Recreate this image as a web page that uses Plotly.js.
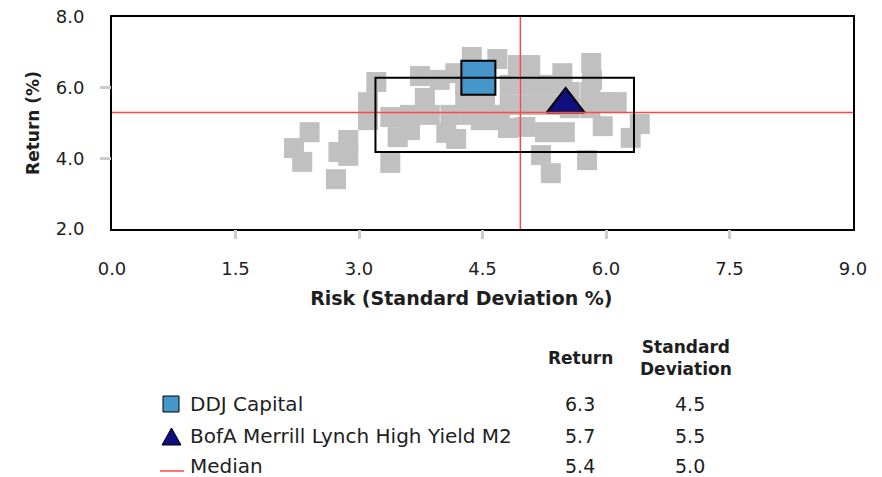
<!DOCTYPE html>
<html>
<head>
<meta charset="utf-8">
<script src="https://cdn.plot.ly/plotly-3.0.1.min.js"></script>
<style>
  html, body { margin: 0; padding: 0; background: #ffffff; }
  #chart { width: 882px; height: 477px; }
</style>
</head>
<body>
<div id="chart"></div>
<script>
// ---------- data ----------
const peerRisk = [2.21, 2.40, 2.31, 2.75, 2.87, 2.87, 2.72, 3.38,
                  3.21, 3.11, 3.11,
                  3.74, 3.98, 4.17, 4.37, 4.68, 4.93, 5.08, 5.47, 5.82, 5.83,
                  3.80, 4.29, 4.53, 4.29, 4.53,
                  4.83, 5.08, 5.32, 5.56, 5.81,
                  4.83, 5.08, 5.32, 5.56, 5.81,
                  3.38, 3.62, 3.86, 4.11, 4.35, 4.59,
                  3.47, 3.62, 4.06, 4.18, 4.48, 4.71, 4.81,
                  5.02, 5.26, 5.50, 5.21, 5.33, 5.77,
                  5.96, 6.01, 6.13, 6.41, 6.30];
const peerReturn = [4.29, 4.74, 3.90, 4.18, 4.52, 4.07, 3.41, 3.87,
                    6.16, 5.59, 5.08,
                    6.33, 6.22, 6.41, 6.87, 6.81, 6.64, 6.64, 6.41, 6.70, 6.22,
                    5.71, 6.08, 6.08, 5.74, 5.74,
                    6.08, 6.08, 6.08, 5.88, 5.88,
                    5.51, 5.51, 5.51, 5.42, 5.42,
                    5.17, 5.23, 5.23, 5.23, 5.23, 5.23,
                    4.60, 4.80, 4.72, 4.55, 5.08, 5.08, 4.86,
                    4.89, 4.74, 4.74, 4.09, 3.58, 3.95,
                    4.91, 5.59, 5.59, 4.97, 4.58];

const fundName = 'DDJ Capital';
const fundRisk = [4.45];
const fundReturn = [6.28];

const benchName = 'BofA Merrill Lynch High Yield M2';
const benchRisk = [5.51];
const benchReturn = [5.53];

const medianRisk = 4.96;
const medianReturn = 5.30;

const boxRisk = [3.20, 6.34];
const boxReturn = [4.18, 6.28];

const xTickVals = [0, 1.5, 3, 4.5, 6, 7.5, 9];
const xTickText = ['0.0', '1.5', '3.0', '4.5', '6.0', '7.5', '9.0'];
const yTickVals = [2, 4, 6, 8];
const yTickText = ['2.0', '4.0', '6.0', '8.0'];
const xTickMarks = [1.5, 3, 4.5, 6, 7.5];
const yTickMarks = [4, 6];

const tableNames = ['DDJ Capital', 'BofA Merrill Lynch High Yield M2', 'Median'];
const tableReturn = ['6.3', '5.7', '5.4'];
const tableStdDev = ['4.5', '5.5', '5.0'];

// ---------- styling ----------
const FONT = 'DejaVu Sans, sans-serif';
const TXT = '#1e1e1e';
const RED = '#ff4747';
const GREY = '#c0c0c0';
const BLUE = '#4597cb';
const NAVY = '#0f0f7d';

// plot area in pixels
const L = 112, R = 853, T = 17, B = 229;
const px = v => (v - L) / (R - L);
const py = v => (B - v) / (B - T);

const traces = [
  { type: 'scatter', mode: 'markers', x: peerRisk, y: peerReturn,
    marker: { symbol: 'square', size: 20, color: GREY, line: { width: 0 } },
    hoverinfo: 'skip' },
  { type: 'scatter', mode: 'markers', x: fundRisk, y: fundReturn, name: fundName,
    marker: { symbol: 'square', size: 34, color: BLUE, line: { width: 2, color: '#000' } } },
  { type: 'scatter', mode: 'markers', x: benchRisk, y: benchReturn, name: benchName,
    marker: { symbol: 'triangle-up', size: 33, color: NAVY, line: { width: 2, color: '#000' } } },
  { type: 'scatter', mode: 'markers', x: [], y: [], xaxis: 'x2', yaxis: 'y2', hoverinfo: 'skip' }
];

const shapes = [
  // median lines
  { type: 'line', xref: 'x', yref: 'paper', x0: medianRisk, x1: medianRisk, y0: 0, y1: 1,
    line: { color: RED, width: 1.5 } },
  { type: 'line', xref: 'paper', yref: 'y', x0: 0, x1: 1, y0: medianReturn, y1: medianReturn,
    line: { color: RED, width: 1.5 } },
  // inter-quartile box
  { type: 'rect', xref: 'x', yref: 'y', x0: boxRisk[0], x1: boxRisk[1], y0: boxReturn[0], y1: boxReturn[1],
    line: { color: '#000', width: 2 }, fillcolor: 'rgba(0,0,0,0)' },
  // legend icons
  { type: 'rect', xref: 'paper', yref: 'paper', x0: px(163), x1: px(179), y0: py(412), y1: py(396),
    fillcolor: BLUE, line: { color: '#000', width: 1 } },
  { type: 'path', xref: 'paper', yref: 'paper',
    path: 'M ' + px(162) + ' ' + py(445) + ' L ' + px(181) + ' ' + py(445) + ' L ' + px(171.5) + ' ' + py(428) + ' Z',
    fillcolor: NAVY, line: { color: '#000', width: 1 } },
  { type: 'line', xref: 'paper', yref: 'paper', x0: px(160), x1: px(184), y0: py(471), y1: py(471),
    line: { color: RED, width: 1.5 } }
];

const annotations = [];
const ann = (text, x, y, xanchor, bold, size) => annotations.push({
  text: bold ? '<b>' + text + '</b>' : text, xref: 'paper', yref: 'paper',
  x: px(x), y: py(y), xanchor: xanchor, yanchor: 'middle', showarrow: false,
  font: { family: FONT, size: size, color: TXT }, align: 'center'
});
ann('Return', 580, 358, 'center', true, 17);
ann('Standard<br>Deviation', 686, 358, 'center', true, 17);
const rowY = [404, 436, 466];
tableNames.forEach((n, i) => {
  ann(n, 188, rowY[i], 'left', false, 20);
  ann(tableReturn[i], 580, rowY[i], 'center', false, 19);
  ann(tableStdDev[i], 690, rowY[i], 'center', false, 19);
});

const pad = '&nbsp;'.repeat(7);

const layout = {
  width: 882, height: 477,
  margin: { l: L, r: 882 - R, t: T, b: 477 - B, pad: 0 },
  paper_bgcolor: '#fff', plot_bgcolor: '#fff',
  showlegend: false,
  font: { family: FONT, color: TXT },
  xaxis: {
    range: [0, 9], tickmode: 'array', tickvals: xTickVals, ticktext: xTickText,
    ticks: '', showgrid: false, zeroline: false,
    showline: true, linecolor: '#000', linewidth: 2, mirror: true,
    tickfont: { family: FONT, size: 18, color: TXT }, ticklabelstandoff: 22,
    title: { text: '<b>Risk (Standard Deviation %)</b>' + pad, font: { family: FONT, size: 19, color: TXT }, standoff: 14 },
    automargin: false
  },
  yaxis: {
    range: [2, 8], tickmode: 'array', tickvals: yTickVals, ticktext: yTickText,
    ticks: '', showgrid: false, zeroline: false,
    showline: true, linecolor: '#000', linewidth: 2, mirror: true,
    tickfont: { family: FONT, size: 18, color: TXT }, ticklabelstandoff: 22,
    title: { text: '<b>Return (%)</b>', font: { family: FONT, size: 17, color: TXT }, standoff: 12 },
    automargin: false
  },
  xaxis2: {
    overlaying: 'x', anchor: 'y', range: [0, 9], tickmode: 'array', tickvals: xTickMarks,
    ticks: 'outside', ticklen: 9, tickwidth: 3, tickcolor: '#c9ccd0',
    showticklabels: false, showgrid: false, zeroline: false, showline: false
  },
  yaxis2: {
    overlaying: 'y', anchor: 'x', range: [2, 8], tickmode: 'array', tickvals: yTickMarks,
    ticks: 'outside', ticklen: 11, tickwidth: 3, tickcolor: '#c9ccd0',
    showticklabels: false, showgrid: false, zeroline: false, showline: false
  },
  shapes: shapes,
  annotations: annotations
};

Plotly.newPlot('chart', traces, layout, { displayModeBar: false, staticPlot: true });
</script>
</body>
</html>
